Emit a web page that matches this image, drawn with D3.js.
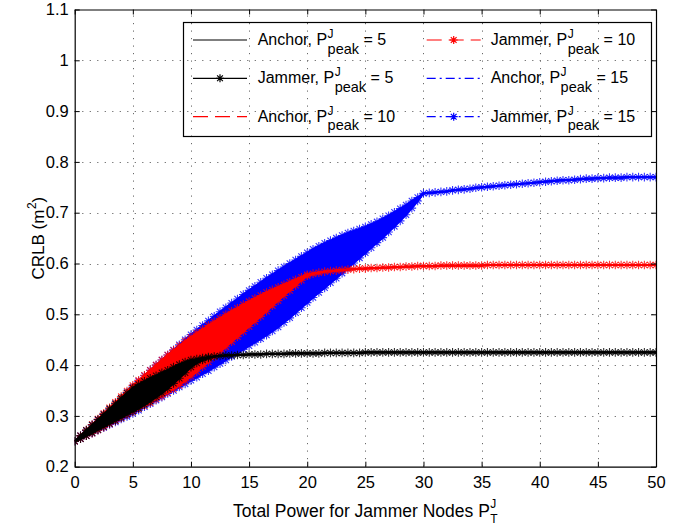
<!DOCTYPE html>
<html><head><meta charset="utf-8">
<script src="https://cdn.jsdelivr.net/npm/d3@7"></script>
<style>
body{margin:0;background:#fff}
text{font-family:"Liberation Sans",Arial,Helvetica,sans-serif;fill:#000}
</style>
</head><body>
<svg id="c" width="695" height="529"></svg>
<script>
// ---------------- data ----------------
// sample positions of the curves
const xInt = [0,1,2,3,4,5,6,7,8,9,10,11,12,13,14,15,16,17,18,19,20,21,22,23,24,25,26,27,28,29,30,
              31,32,33,34,35,36,37,38,39,40,41,42,43,44,45,46,47,48,49,50];
const xHalf = [0,0.5,1,1.5,2,2.5,3,3.5,4,4.5,5,5.5,6,6.5,7,7.5,8,8.5,9,9.5,
  10,10.5,11,11.5,12,12.5,13,13.5,14,14.5,15,15.5,16,16.5,17,17.5,18,18.5,19,19.5,
  20,20.5,21,21.5,22,22.5,23,23.5,24,24.5,25,25.5,26,26.5,27,27.5,28,28.5,29,29.5,
  30,30.5,31,31.5,32,32.5,33,33.5,34,34.5,35,35.5,36,36.5,37,37.5,38,38.5,39,39.5,
  40,40.5,41,41.5,42,42.5,43,43.5,44,44.5,45,45.5,46,46.5,47,47.5,48,48.5,49,49.5,50];
const xTicks = [0,5,10,15,20,25,30,35,40,45,50];
const xTickLabels = ["0","5","10","15","20","25","30","35","40","45","50"];
const yTicks = [0.2,0.3,0.4,0.5,0.6,0.7,0.8,0.9,1.0,1.1];
const yTickLabels = ["0.2","0.3","0.4","0.5","0.6","0.7","0.8","0.9","1","1.1"];

// Anchor curves (on xInt)
const anchor5 = [0.250,0.266,0.283,0.300,0.316,0.332,0.345,0.358,0.372,0.388,0.403,0.412,0.416,0.419,0.420,0.421,0.421,0.422,0.422,0.423,0.423,
  0.423,0.424,0.424,0.424,0.425,0.425,0.425,0.425,0.425,0.425,0.425,0.425,0.425,0.425,0.425,0.425,0.425,0.425,0.425,0.425,
  0.425,0.425,0.425,0.425,0.425,0.425,0.425,0.425,0.425,0.425];
const anchor10 = [0.250,0.266,0.283,0.300,0.317,0.334,0.350,0.366,0.383,0.399,0.416,0.433,0.450,0.467,0.484,0.500,0.516,0.532,0.547,0.562,0.577,
  0.582,0.585,0.587,0.589,0.590,0.591,0.592,0.593,0.594,0.595,0.595,0.596,0.596,0.596,0.596,0.597,0.597,0.597,0.597,0.597,
  0.597,0.597,0.597,0.597,0.597,0.597,0.597,0.597,0.597,0.597];
const anchor15 = [0.250,0.266,0.282,0.298,0.314,0.331,0.348,0.365,0.382,0.398,0.415,0.430,0.446,0.461,0.477,0.492,0.507,0.522,0.538,0.555,0.572,
  0.588,0.603,0.618,0.632,0.646,0.661,0.678,0.696,0.716,0.738,0.740,0.742,0.745,0.747,0.750,0.752,0.754,0.756,0.758,0.760,
  0.762,0.764,0.765,0.767,0.768,0.769,0.769,0.770,0.770,0.770];

// Jammer curves (on xHalf): upper edge of the oscillating band, and lower edge up to the knee
const jam5Hi = [0.250,0.261,0.272,0.282,0.293,0.303,0.314,0.324,0.335,0.345,
  0.355,0.362,0.368,0.374,0.379,0.385,0.390,0.396,0.401,0.406,
  0.410,0.412,0.414,0.416,0.417,0.418,0.419,0.419,0.420,0.420,
  0.421,0.421,0.421,0.422,0.422,0.422,0.422,0.423,0.423,0.423,
  0.423,0.423,0.423,0.424,0.424,0.424,0.424,0.424,0.424,0.424,
  0.425,0.425,0.425,0.425,0.425,0.425,0.425,0.425,0.425,0.425,
  0.425,0.425,0.425,0.425,0.425,0.425,0.425,0.425,0.425,0.425,
  0.425,0.425,0.425,0.425,0.425,0.425,0.425,0.425,0.425,0.425,
  0.425,0.425,0.425,0.425,0.425,0.425,0.425,0.425,0.425,0.425,
  0.425,0.425,0.425,0.425,0.425,0.425,0.425,0.425,0.425,0.425,0.425];
const jam5Lo = [0.250,0.255,0.261,0.267,0.273,0.279,0.285,0.291,0.297,0.303,
  0.309,0.315,0.322,0.329,0.337,0.345,0.354,0.364,0.374,0.385,
  0.396,0.404,0.410,0.414,0.417];

const jam10Hi = [0.250,0.261,0.272,0.283,0.294,0.305,0.316,0.327,0.338,0.349,
  0.360,0.370,0.380,0.390,0.400,0.410,0.420,0.429,0.438,0.447,
  0.455,0.463,0.470,0.478,0.485,0.492,0.499,0.506,0.512,0.519,
  0.525,0.531,0.537,0.543,0.548,0.553,0.558,0.563,0.568,0.573,
  0.578,0.580,0.582,0.584,0.585,0.586,0.587,0.588,0.589,0.590,
  0.590,0.591,0.591,0.592,0.592,0.593,0.593,0.594,0.594,0.595,
  0.595,0.595,0.595,0.596,0.596,0.596,0.596,0.596,0.596,0.596,
  0.596,0.597,0.597,0.597,0.597,0.597,0.597,0.597,0.597,0.597,
  0.597,0.597,0.597,0.597,0.597,0.597,0.597,0.597,0.597,0.597,
  0.597,0.597,0.597,0.597,0.597,0.597,0.597,0.597,0.597,0.597,0.597];
const jam10Lo = [0.250,0.255,0.261,0.266,0.272,0.278,0.284,0.290,0.296,0.302,
  0.308,0.314,0.320,0.326,0.333,0.339,0.346,0.353,0.360,0.369,
  0.378,0.387,0.397,0.406,0.416,0.426,0.436,0.446,0.456,0.466,
  0.476,0.486,0.496,0.506,0.517,0.527,0.537,0.547,0.557,0.567,
  0.576,0.580];

const jam15Hi = [0.250,0.261,0.271,0.282,0.292,0.303,0.313,0.324,0.334,0.346,
  0.357,0.368,0.379,0.390,0.400,0.410,0.420,0.430,0.440,0.450,
  0.460,0.469,0.478,0.487,0.496,0.505,0.513,0.522,0.530,0.539,
  0.547,0.555,0.563,0.571,0.578,0.586,0.593,0.600,0.607,0.614,
  0.621,0.628,0.634,0.640,0.645,0.650,0.655,0.660,0.664,0.668,
  0.672,0.677,0.682,0.688,0.694,0.701,0.708,0.715,0.723,0.730,
  0.738,0.739,0.740,0.741,0.742,0.744,0.745,0.746,0.747,0.749,
  0.750,0.751,0.752,0.753,0.754,0.755,0.756,0.757,0.758,0.759,
  0.760,0.761,0.762,0.763,0.764,0.764,0.765,0.766,0.767,0.767,
  0.768,0.768,0.769,0.769,0.769,0.770,0.770,0.770,0.770,0.770,0.770];
const jam15Lo = [0.250,0.255,0.261,0.266,0.272,0.277,0.283,0.288,0.294,0.299,
  0.305,0.311,0.318,0.324,0.331,0.337,0.344,0.350,0.357,0.363,
  0.370,0.376,0.383,0.389,0.396,0.403,0.410,0.417,0.424,0.431,
  0.438,0.445,0.452,0.459,0.467,0.475,0.484,0.493,0.503,0.513,
  0.523,0.533,0.543,0.552,0.562,0.571,0.581,0.591,0.601,0.611,
  0.621,0.631,0.641,0.651,0.662,0.673,0.684,0.696,0.709,0.723,
  0.738];

const legendNames = ["Anchor","Jammer","Anchor","Jammer","Anchor","Jammer"];
const legendPeaks = ["5","5","10","10","15","15"];

// ---------------- drawing ----------------
const svg = d3.select('#c');
const FONT = '"Liberation Sans",Arial,Helvetica,sans-serif';
const L = 74.7, R = 656, T = 9.5, B = 466.7;
const x = d3.scaleLinear().domain([0,50]).range([L,R]);
const y = d3.scaleLinear().domain([0.2,1.1]).range([B,T]);

svg.append('defs').append('clipPath').attr('id','clip')
  .append('rect').attr('x',L).attr('y',T).attr('width',R-L).attr('height',B-T);

// grid
const grid = svg.append('g').attr('stroke','#6a6a6a').attr('stroke-width',1).attr('stroke-dasharray','1.2,6.3');
grid.selectAll('line.v').data(xTicks.filter(d=>d>0&&d<50)).join('line')
  .attr('x1',d=>Math.round(x(d))+0.5).attr('x2',d=>Math.round(x(d))+0.5).attr('y1',B).attr('y2',T);
grid.selectAll('line.h').data(yTicks.filter(d=>d>0.2&&d<1.1)).join('line')
  .attr('y1',d=>Math.round(y(d))+0.5).attr('y2',d=>Math.round(y(d))+0.5).attr('x1',L).attr('x2',R);

function starPath(r){
  const k = r*0.72;
  return `M${-r},0H${r}M0,${-r}V${r}M${-k},${-k}L${k},${k}M${-k},${k}L${k},${-k}`;
}

const series = [
  {anchor: anchor15, hi: jam15Hi, lo: jam15Lo, color:'#0000ff', aDash:'9,4,2,4', jDash:'9,4,2,4'},
  {anchor: anchor10, hi: jam10Hi, lo: jam10Lo, color:'#ff0000', aDash:'15,7', jDash:'15,7'},
  {anchor: anchor5,  hi: jam5Hi,  lo: jam5Lo,  color:'#000000', aDash:null, jDash:null}
];

const plot = svg.append('g').attr('clip-path','url(#clip)');
const lineInt = d3.line().x((d,i)=>x(xInt[i])).y(d=>y(d));
const lineHalf = d3.line().x((d,i)=>x(xHalf[i])).y(d=>y(d));
series.forEach(s=>{
  const g = plot.append('g');
  const loFull = s.hi.map((v,i)=> i < s.lo.length ? s.lo[i] : v);
  // anchor curve
  g.append('path').datum(s.anchor).attr('d',lineInt).attr('fill','none')
    .attr('stroke',s.color).attr('stroke-width',1.5).attr('stroke-dasharray',s.aDash);
  // jammer band between upper and lower edges
  const area = d3.area().x((d,i)=>x(xHalf[i])).y0((d,i)=>y(loFull[i])).y1(d=>y(d));
  g.append('path').datum(s.hi).attr('d',area).attr('fill',s.color).attr('stroke','none');
  [s.hi, loFull].forEach(arr=>{
    g.append('path').datum(arr).attr('d',lineHalf).attr('fill','none')
      .attr('stroke',s.color).attr('stroke-width',2.2);
  });
  const pts = [];
  xHalf.forEach((xv,i)=>{ pts.push([xv,s.hi[i]]); if (loFull[i]!==s.hi[i]) pts.push([xv,loFull[i]]); });
  g.selectAll('path.m').data(pts).join('path').attr('class','m')
    .attr('transform',d=>`translate(${x(d[0])},${y(d[1])})`)
    .attr('d',starPath(4.3)).attr('fill','none').attr('stroke',s.color)
    .attr('stroke-width',1.1).attr('stroke-opacity',0.8);
});

// axes
function styleAxis(g){
  g.attr('font-family',FONT).attr('font-size',16.5);
  g.selectAll('.domain').attr('stroke','#000').attr('stroke-width',1.2);
  g.selectAll('.tick line').attr('stroke','#000').attr('stroke-width',1);
  g.selectAll('.tick text').attr('fill','#000');
}
svg.append('g').attr('transform',`translate(0,${B})`)
  .call(d3.axisBottom(x).tickValues(xTicks).tickFormat((d,i)=>xTickLabels[i]).tickSize(-5).tickSizeOuter(0).tickPadding(10))
  .call(styleAxis);
svg.append('g').attr('transform',`translate(0,${T})`)
  .call(d3.axisTop(x).tickValues(xTicks).tickFormat('').tickSize(-5).tickSizeOuter(0))
  .call(styleAxis);
svg.append('g').attr('transform',`translate(${L},0)`)
  .call(d3.axisLeft(y).tickValues(yTicks).tickFormat((d,i)=>yTickLabels[i]).tickSize(-5).tickSizeOuter(0).tickPadding(6))
  .call(styleAxis);
svg.append('g').attr('transform',`translate(${R},0)`)
  .call(d3.axisRight(y).tickValues(yTicks).tickFormat('').tickSize(-5).tickSizeOuter(0))
  .call(styleAxis);

// helper for TeX-like labels (super/subscripts)
function texLabel(g, x0, yb, main, sup, sub, post, fs, fsSup, fsSub, supDy, subDy, postGap){
  const t1 = g.append('text').attr('x',x0).attr('y',yb).attr('font-size',fs).text(main);
  const w1 = t1.node().getComputedTextLength();
  const xs2 = x0 + w1 + 0.5;
  let wmax = 0;
  if (sup){ const t = g.append('text').attr('x',xs2).attr('y',yb+supDy).attr('font-size',fsSup).text(sup); wmax = Math.max(wmax,t.node().getComputedTextLength()); }
  if (sub){ const t = g.append('text').attr('x',xs2).attr('y',yb+subDy).attr('font-size',fsSub).text(sub); wmax = Math.max(wmax,t.node().getComputedTextLength()); }
  let end = xs2 + wmax;
  if (post){ end += postGap; const t = g.append('text').attr('x',end).attr('y',yb).attr('font-size',fs).text(post); end += t.node().getComputedTextLength(); }
  return end - x0;
}

// legend
const leg = svg.append('g');
leg.append('rect').attr('x',183.5).attr('y',22.5).attr('width',468).attr('height',114)
  .attr('fill','none').attr('stroke','#000').attr('stroke-width',1.2);
const legStyles = [
  {color:'#000000', dash:null, star:false},
  {color:'#000000', dash:null, star:true},
  {color:'#ff0000', dash:'15,7', star:false},
  {color:'#ff0000', dash:'15,7', star:true},
  {color:'#0000ff', dash:'9,4,2,4', star:false},
  {color:'#0000ff', dash:'9,4,2,4', star:true}
];
const colX = [193, 426.7], colTextX = [257.7, 490.7], rowY = [40, 78.3, 116.7];
legendNames.forEach((nm,i)=>{
  const c = Math.floor(i/3), r = i%3, st = legStyles[i];
  const ly = rowY[r];
  leg.append('line').attr('x1',colX[c]).attr('x2',colX[c]+54).attr('y1',ly).attr('y2',ly)
    .attr('stroke',st.color).attr('stroke-width',1.2).attr('stroke-dasharray',st.dash);
  if (st.star) leg.append('path').attr('transform',`translate(${colX[c]+27},${ly})`)
    .attr('d',starPath(4)).attr('fill','none').attr('stroke',st.color).attr('stroke-width',1.2);
  texLabel(leg, colTextX[c], ly+5, nm + ', P', 'J', 'peak', '= ' + legendPeaks[i], 16, 12, 14.5, -7, 8.5, 4.5);
});

// x label
const xl = svg.append('g');
const wx = texLabel(xl, 0, 517, 'Total Power for Jammer Nodes P', 'J', 'T', null, 17.5, 12, 12, -9, 6, 0);
xl.attr('transform',`translate(${(L+R)/2 - wx/2},0)`);

// y label
const yl = svg.append('g');
const wy = texLabel(yl, 0, 0, 'CRLB (m', '2', null, ')', 17, 12, 12, -8, 0, 0);
yl.attr('transform',`translate(44,${(T+B)/2}) rotate(-90) translate(${-wy/2},0)`);
</script>
</body></html>
